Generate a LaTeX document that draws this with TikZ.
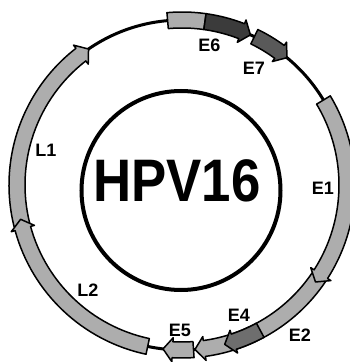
\documentclass[tikz,border=0pt]{standalone}
\usepackage{fontspec}
\setmainfont{Liberation Sans}
\definecolor{lightband}{gray}{0.68}
\definecolor{darkband}{gray}{0.23}
\definecolor{midband}{gray}{0.35}
\definecolor{eiv}{gray}{0.43}
\tikzset{
  band/.style={draw=black, line width=1.5pt, line join=round},
  genelabel/.style={font=\fontsize{18}{18}\selectfont\bfseries, inner sep=0pt},
}
% Outer ring geometry
\def\rmid{165}
\def\rin{157}
\def\rout{173}
\def\hin{153}
\def\hout{177}
\def\hlen{3.3}
% gene arrow running clockwise from #1 to #2 (degrees), fill #3
\newcommand\genearrow[3]{%
  \pgfmathsetmacro\hb{#2+\hlen}%
  \draw[band, fill=#3]
    ([shift={(C)}]#1:\rout) arc[start angle=#1, end angle=\hb, radius=\rout]
    -- ([shift={(C)}]\hb:\hout) -- ([shift={(C)}]#2:\rmid)
    -- ([shift={(C)}]\hb:\hin) -- ([shift={(C)}]\hb:\rin)
    arc[start angle=\hb, end angle=#1, radius=\rin] -- cycle;}
% plain block from #1 to #2, fill #3
\newcommand\geneblock[3]{%
  \draw[band, fill=#3]
    ([shift={(C)}]#1:\rout) arc[start angle=#1, end angle=#2, radius=\rout]
    -- ([shift={(C)}]#2:\rin)
    arc[start angle=#2, end angle=#1, radius=\rin] -- cycle;}
\begin{document}
\begin{tikzpicture}[x=1pt, y=1pt]
\useasboundingbox (0,0) rectangle (350,362);
\coordinate (C) at (182,177);
\coordinate (Ci) at (181,171.5);
% genome backbone
\draw[line width=3pt] (C) circle[radius=\rmid];
% inner circle with name
\draw[line width=4pt] (Ci) circle[radius=99.5];
\node[inner sep=0pt] (name) at (177,181) {\scalebox{0.88}[1]{\fontsize{60}{60}\selectfont\bfseries HPV16}};
% genes
\geneblock{95}{82}{lightband}
\genearrow{82}{65.5}{darkband}
\genearrow{64}{50.5}{midband}
\genearrow{-34}{-85.5}{lightband}
\genearrow{31}{-36}{lightband}
\genearrow{-61.7}{-75}{eiv}
\genearrow{-86}{-96.6}{lightband}
\genearrow{-166}{-235.5}{lightband}
\genearrow{-102}{-168}{lightband}
% labels
\node[genelabel] (lE6) at (209.5,316.5) {E6};
\node[genelabel] (lE7) at (254,293.5) {E7};
\node[genelabel] (lE1) at (323,173.5) {E1};
\node[genelabel] (lL1) at (46,212) {L1};
\node[genelabel] (lL2) at (88,72) {L2};
\node[genelabel] (lE4) at (239,47) {E4};
\node[genelabel] (lE2) at (300,27) {E2};
\node[genelabel] (lE5) at (180,32) {E5};
\end{tikzpicture}
\end{document}
